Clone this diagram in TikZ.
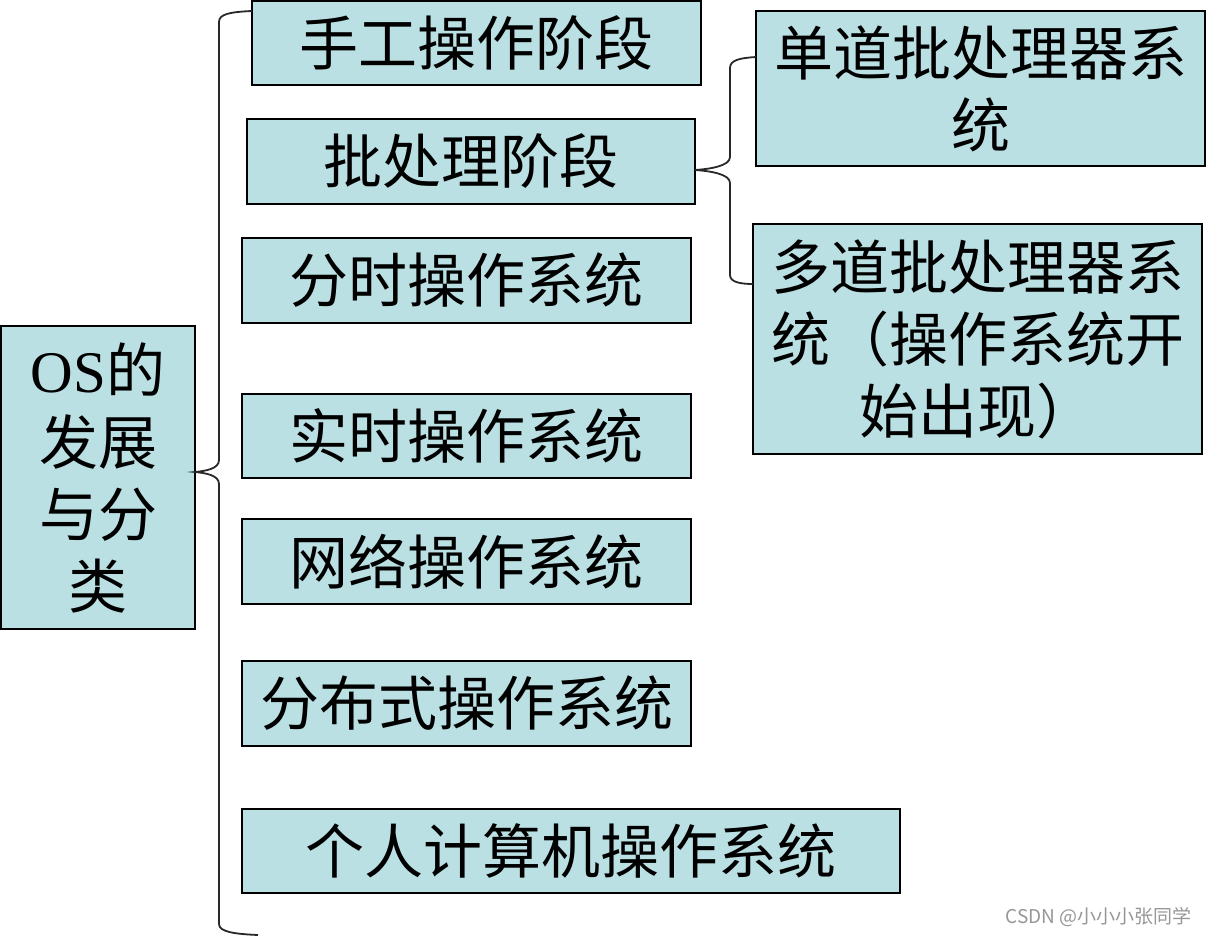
\documentclass[tikz,border=0pt]{standalone}
\usepackage{fontspec}
\setmainfont{Liberation Serif}
\newfontfamily\cjk{Noto Sans CJK SC}
\definecolor{boxfill}{RGB}{187,224,227}
\definecolor{bracecol}{RGB}{40,40,40}
\definecolor{wm}{RGB}{150,150,150}
\begin{document}
\begin{tikzpicture}[x=1pt,y=-1pt,
  box/.style={draw=black, line width=1.2pt, fill=boxfill, inner sep=0pt, outer sep=0pt,
    align=center, font=\fontsize{59}{72}\selectfont\cjk},
  bracket/.style={draw=bracecol, line width=1.8pt}]
\useasboundingbox (0,0) rectangle (1206,936);
\node[box, minimum width=194pt, minimum height=303pt] (root) at (98,477.5)
  {{\rmfamily OS}的\\发展\\与分\\类};
\node[box, minimum width=449pt, minimum height=84pt] (n1) at (476.5,43) {手工操作阶段};
\node[box, minimum width=448pt, minimum height=85pt] (n2) at (471,161.5) {批处理阶段};
\node[box, minimum width=449pt, minimum height=85pt] (n3) at (466.5,280.5) {分时操作系统};
\node[box, minimum width=449pt, minimum height=84pt] (n4) at (466.5,436) {实时操作系统};
\node[box, minimum width=449pt, minimum height=85pt] (n5) at (466.5,561.5) {网络操作系统};
\node[box, minimum width=449pt, minimum height=85pt] (n6) at (466.5,703.5) {分布式操作系统};
\node[box, minimum width=658pt, minimum height=84pt] (n7) at (571,851) {个人计算机操作系统};
\node[box, minimum width=449pt, minimum height=155pt] (s1) at (980.5,88.5) {单道批处理器系\\统};
\node[box, minimum width=449pt, minimum height=230pt] (s2) at (977.5,339) {多道批处理器系\\统（操作系统开\\始出现）};
\coordinate (mainend) at (258,935);
\draw[bracket] (n1.west |- 0,11) .. controls (230,12) and (219,14) .. (219,22)
  -- (219,460) .. controls (219,469) and (205,471) .. (root.east |- 0,472)
  .. controls (205,473) and (219,475) .. (219,484)
  -- (219,924) .. controls (219,932) and (235,934) .. (mainend);
\draw[bracket] (s1.west |- 0,57) .. controls (740,58) and (730,60) .. (730,68)
  -- (730,157) .. controls (730,166) and (710,169) .. (n2.east |- 0,170)
  .. controls (710,171) and (730,174) .. (730,183)
  -- (730,275) .. controls (730,282) and (740,284) .. (s2.west |- 0,284);
\node[anchor=east, text=wm, font=\fontsize{19}{22}\selectfont\cjk, inner sep=0pt] (wmk) at (1192,917) {CSDN @小小小张同学};
\end{tikzpicture}
\end{document}
